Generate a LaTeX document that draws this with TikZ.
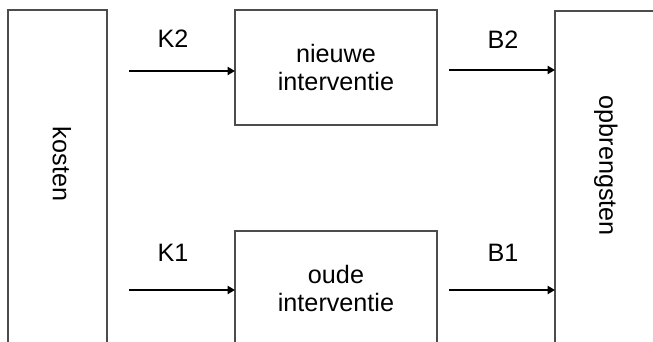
\documentclass[tikz,border=0pt]{standalone}
\usepackage{fontspec}
\setmainfont{Liberation Sans}
\usetikzlibrary{arrows.meta}
\begin{document}
\begin{tikzpicture}[x=0.03cm,y=0.03cm]
\tikzset{flow/.style={-{Triangle[length=0.22cm,width=0.24cm]},line width=1.8pt}}
\tikzstyle{box}=[draw=black!70,line width=0.9pt,rectangle,inner sep=0pt,outer sep=0pt,minimum width=6.06cm,minimum height=3.45cm,align=center]
\tikzstyle{bar}=[draw=black!70,line width=0.9pt,rectangle,inner sep=0pt,outer sep=0pt]
\tikzstyle{lbl}=[font=\fontsize{21.5}{24}\selectfont]
\useasboundingbox (0,0) rectangle (653,342);
\clip (0,0) rectangle (653,342);
\node[bar,minimum width=2.97cm,minimum height=10.26cm] (kosten)at(57.5,161){};
\node[bar,minimum width=3.3cm,minimum height=10.23cm] (opbr)at(610,160.5){};
\node[lbl,rotate=-90] (kt)at(62,178){kosten};
\node[lbl,rotate=-90] (ot)at(606,176){opbrengsten};
\node[box,lbl] (nieuw)at(336,274.5){nieuwe\\interventie};
\node[box,lbl] (oud)at(336,53.5){oude\\interventie};
\node[lbl] (k2)at(173,303){K2};
\node[lbl] (k1)at(173,89){K1};
\node[lbl] (b2)at(503,302){B2};
\node[lbl] (b1)at(503,89){B1};
\coordinate (k2s)at(129,271);
\coordinate (k1s)at(129,52);
\coordinate (b2s)at(449,272);
\coordinate (b1s)at(449,52);
\draw[flow] (k2s)--(k2s-|nieuw.west);
\draw[flow] (k1s)--(k1s-|oud.west);
\draw[flow] (b2s)--(b2s-|opbr.west);
\draw[flow] (b1s)--(b1s-|opbr.west);
\end{tikzpicture}
\end{document}
